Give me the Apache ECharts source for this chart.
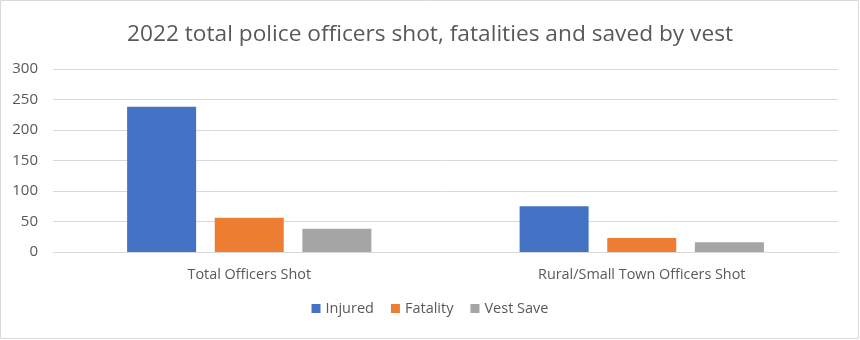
<!DOCTYPE html>
<html>
<head>
<meta charset="utf-8">
<script src="https://cdn.jsdelivr.net/npm/echarts@6/dist/echarts.min.js"></script>
<style>
html,body{margin:0;padding:0;background:#fff;}
#c{width:860px;height:340px;}
</style>
</head>
<body>
<div id="c"></div>
<script>
const titleText = "2022 total police officers shot, fatalities and saved by vest";
const categories = ["Total Officers Shot", "Rural/Small Town Officers Shot"];
const seriesNames = ["Injured", "Fatality", "Vest Save"];
const injured = [238, 75];
const fatality = [56, 23];
const vestSave = [38, 16];
const yTicks = [0, 50, 100, 150, 200, 250, 300];

const colors = ["#4472C4", "#ED7D31", "#A5A5A5"];
const font = "'Open Sans', 'Noto Sans', sans-serif";
const chart = echarts.init(document.getElementById('c'), null, {renderer: 'canvas'});
const values = [injured, fatality, vestSave];
chart.setOption({
  animation: false,
  color: colors,
  title: {
    text: titleText, left: 'center', top: 18,
    textStyle: {fontFamily: font, fontSize: 22.7, fontWeight: 'normal', color: '#595959'}
  },
  legend: {
    data: seriesNames, bottom: 19, left: 'center', itemWidth: 9, itemHeight: 9, itemGap: 17,
    icon: 'rect',
    textStyle: {fontFamily: font, fontSize: 14.5, color: '#595959'}
  },
  grid: {left: 53, right: 22, top: 69, bottom: 88, containLabel: false},
  xAxis: {
    type: 'category', data: categories,
    axisLine: {lineStyle: {color: '#D9D9D9'}}, axisTick: {show: false},
    axisLabel: {fontFamily: font, fontSize: 14.4, color: '#595959', margin: 16}
  },
  yAxis: {
    type: 'value', min: yTicks[0], max: yTicks[yTicks.length - 1], interval: 50,
    axisLine: {show: false}, axisTick: {show: false},
    splitLine: {lineStyle: {color: '#D9D9D9'}},
    axisLabel: {fontFamily: font, fontSize: 15, color: '#595959', margin: 15}
  },
  series: seriesNames.map((n, i) => ({
    name: n, type: 'bar', data: values[i], barWidth: 69, barGap: '27%'
  })),
  graphic: [{type: 'rect', shape: {x: 0.5, y: 0.5, width: 858, height: 338}, style: {fill: 'none', stroke: '#D9D9D9', lineWidth: 1}, silent: true}]
});
</script>
</body>
</html>
